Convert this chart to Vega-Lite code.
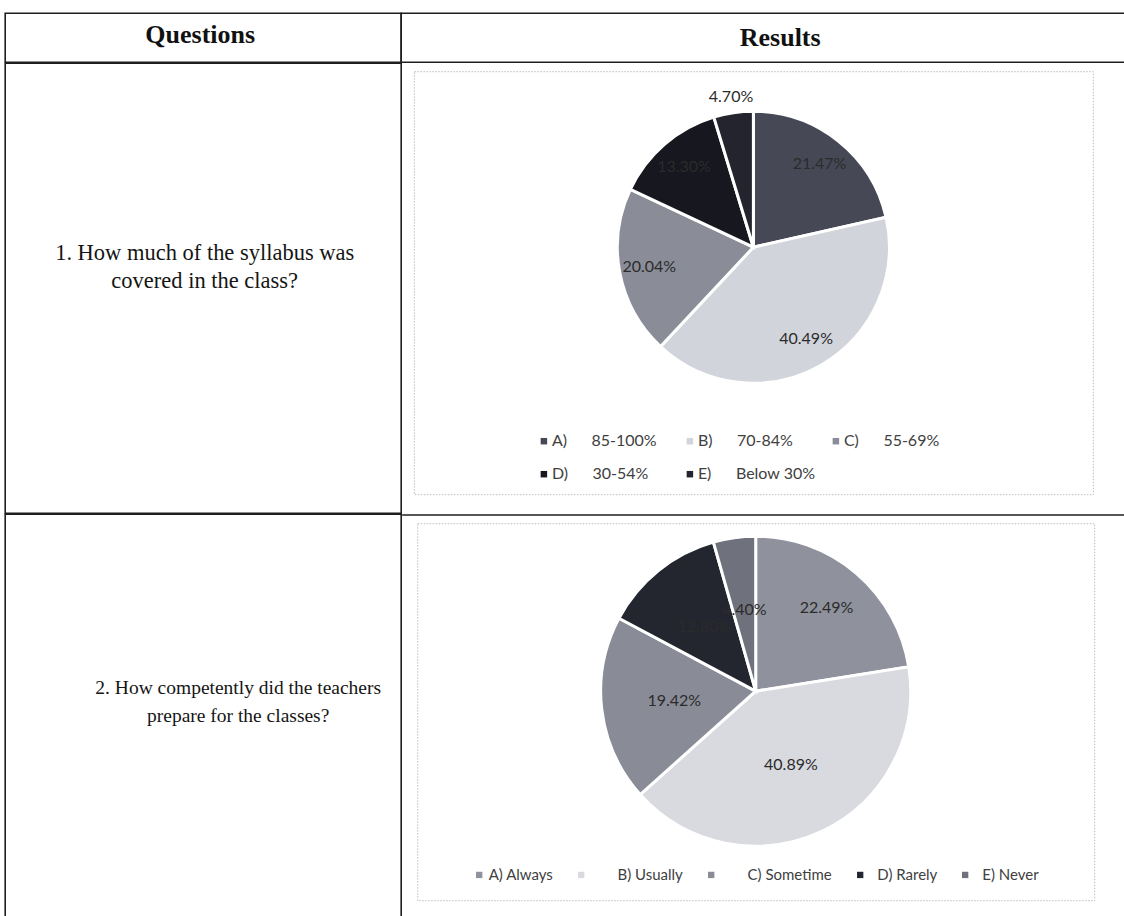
{
  "$schema": "https://vega.github.io/schema/vega-lite/v6.json",
  "background": "white",
  "padding": {"left": 4.2, "top": 12.2, "right": 0, "bottom": 0},
  "spacing": -1.6,
  "config": {"view": {"stroke": null}},
  "resolve": {"scale": {"color": "independent", "theta": "independent"}, "legend": {"color": "independent"}},
  "vconcat": [
    {
      "bounds": "flush",
      "spacing": 0,
      "hconcat": [
        {
          "width": 396, "height": 49,
          "view": {"stroke": "#1e1e1e", "strokeWidth": 1.6},
          "data": {"values": [{"t": "Questions"}]},
          "mark": {"type": "text", "font": "Liberation Serif", "fontWeight": "bold", "fontSize": 26, "color": "#111111", "dx": -3, "dy": -3},
          "encoding": {"text": {"field": "t", "type": "nominal"}}
        },
        {
          "width": 724, "height": 49,
          "view": {"stroke": "#1e1e1e", "strokeWidth": 1.6},
          "data": {"values": [{"t": "Results"}]},
          "mark": {"type": "text", "font": "Liberation Serif", "fontWeight": "bold", "fontSize": 26, "color": "#111111", "dx": 17, "dy": 0},
          "encoding": {"text": {"field": "t", "type": "nominal"}}
        }
      ]
    },
    {
      "spacing": 10.7,
      "resolve": {"scale": {"color": "independent", "theta": "independent"}, "legend": {"color": "independent"}},
      "hconcat": [
        {
          "width": 396, "height": 450,
          "view": {"stroke": "#1e1e1e", "strokeWidth": 1.6},
          "data": {"values": [{"t": "1. How much of the syllabus was\ncovered in the class?"}]},
          "mark": {"type": "text", "font": "Liberation Serif", "fontSize": 22.5, "lineHeight": 28, "lineBreak": "\n", "color": "#151515", "dx": 1.5, "dy": -35},
          "encoding": {"text": {"field": "t", "type": "nominal"}}
        },
        {
          "bounds": "flush",
          "spacing": 7,
          "resolve": {"scale": {"color": "independent", "theta": "independent"}, "legend": {"color": "independent"}},
          "vconcat": [
            {"width": 1, "height": 1, "data": {"values": [{}]}, "mark": {"type": "point", "size": 0, "filled": true, "strokeWidth": 0, "opacity": 0}},
            {
              "width": 679, "height": 423,
              "view": {"stroke": "#bdbdbd", "strokeWidth": 1, "strokeDash": [1.5, 1.5]},
              "data": {"values": [
                {"o": "A) 85-100%", "p": 21.47, "l": "21.47%"},
                {"o": "B) 70-84%", "p": 40.49, "l": "40.49%"},
                {"o": "C) 55-69%", "p": 20.04, "l": "20.04%"},
                {"o": "D) 30-54%", "p": 13.30, "l": "13.30%"},
                {"o": "E) Below 30%", "p": 4.70, "l": "4.70%"}
              ]},
              "encoding": {
                "theta": {"field": "p", "type": "quantitative", "stack": true},
                "order": {"field": "o", "type": "ordinal", "sort": "ascending"}
              },
              "layer": [
                {
                  "mark": {"type": "arc", "radius": 136, "yOffset": -35.5, "stroke": "white", "strokeWidth": 3},
                  "encoding": {
                    "color": {
                      "field": "o", "type": "nominal",
                      "scale": {"range": ["#464955", "#d2d4db", "#8a8d98", "#17171f", "#24242e"]},
                      "legend": {
                        "title": null, "orient": "none", "legendX": 122, "legendY": 362,
                        "direction": "horizontal",
                        "columns": 3, "gridAlign": "all", "columnPadding": 12, "rowPadding": 17,
                        "symbolType": "square", "symbolSize": 42, "symbolStrokeWidth": 0,
                        "labelFont": "Lato", "labelFontSize": 16, "labelColor": "#404040", "labelOffset": 0, "labelLimit": 300,
                        "labelExpr": "replace(datum.label, ') ', ')\u00a0\u00a0\u00a0\u00a0\u00a0\u00a0')"
                      }
                    }
                  }
                },
                {
                  "mark": {"type": "text", "radius": 106, "yOffset": -35.5, "font": "Lato", "fontSize": 16, "color": "#2b2b2b"},
                  "encoding": {
                    "detail": {"field": "o", "type": "nominal"},
                    "text": {"condition": {"test": "datum.p < 5", "value": ""}, "field": "l", "type": "nominal"}
                  }
                },
                {
                  "mark": {"type": "text", "radius": 152, "yOffset": -35.5, "font": "Lato", "fontSize": 16, "color": "#2b2b2b"},
                  "encoding": {
                    "detail": {"field": "o", "type": "nominal"},
                    "text": {"condition": {"test": "datum.p >= 5", "value": ""}, "field": "l", "type": "nominal"}
                  }
                }
              ]
            }
          ]
        }
      ]
    },
    {
      "spacing": -0.8,
      "resolve": {"scale": {"color": "independent", "theta": "independent"}, "legend": {"color": "independent"}},
      "hconcat": [
        {
          "width": 396, "height": 405,
          "view": {"stroke": "#1e1e1e", "strokeWidth": 1.6},
          "data": {"values": [{"t": "2.  How competently did the teachers\nprepare for the classes?"}]},
          "mark": {"type": "text", "font": "Liberation Serif", "fontSize": 19.5, "lineHeight": 28, "lineBreak": "\n", "color": "#151515", "dx": 35, "dy": -29},
          "encoding": {"text": {"field": "t", "type": "nominal"}}
        },
        {
          "spacing": 6,
          "resolve": {"scale": {"color": "independent", "theta": "independent"}, "legend": {"color": "independent"}},
          "vconcat": [
            {"width": 724, "height": 1.5, "view": {"fill": "#1e1e1e"}, "data": {"values": [{}]}, "mark": {"type": "point", "size": 0, "filled": true, "strokeWidth": 0, "opacity": 0}},
            {
              "bounds": "flush",
              "spacing": 14,
              "resolve": {"scale": {"color": "independent", "theta": "independent"}, "legend": {"color": "independent"}},
              "hconcat": [
                {"width": 1, "height": 1, "data": {"values": [{}]}, "mark": {"type": "point", "size": 0, "filled": true, "strokeWidth": 0, "opacity": 0}},
                {
                  "width": 677, "height": 377,
                  "view": {"stroke": "#bdbdbd", "strokeWidth": 1, "strokeDash": [1.5, 1.5]},
                  "data": {"values": [
                    {"o": "A) Always", "p": 22.49, "l": "22.49%"},
                    {"o": "B) Usually", "p": 40.89, "l": "40.89%"},
                    {"o": "C) Sometime", "p": 19.42, "l": "19.42%"},
                    {"o": "D) Rarely", "p": 12.80, "l": "12.80%"},
                    {"o": "E) Never", "p": 4.40, "l": "4.40%"}
                  ]},
                  "encoding": {
                    "theta": {"field": "p", "type": "quantitative", "stack": true},
                    "order": {"field": "o", "type": "ordinal", "sort": "ascending"}
                  },
                  "layer": [
                    {
                      "mark": {"type": "arc", "radius": 155, "yOffset": -20.5, "stroke": "white", "strokeWidth": 3},
                      "encoding": {
                        "color": {
                          "field": "o", "type": "nominal",
                          "scale": {"range": ["#8f929d", "#d8dae0", "#898c97", "#23252f", "#6f727d"]},
                          "legend": {
                            "title": null, "orient": "none", "legendX": 54.5, "legendY": 344,
                            "direction": "horizontal",
                            "columns": 5, "gridAlign": "each", "columnPadding": 20,
                            "symbolType": "square", "symbolSize": 40, "symbolStrokeWidth": 0,
                            "labelFont": "Lato", "labelFontSize": 15, "labelColor": "#404040", "labelOffset": 2, "labelLimit": 300,
                            "labelExpr": "(datum.value == 'B) Usually' || datum.value == 'C) Sometime' ? '\u200b\u00a0\u00a0\u00a0\u00a0\u00a0\u00a0\u00a0' : datum.value == 'A) Always' ? '' : '\u200b\u00a0\u00a0') + datum.label"
                          }
                        }
                      }
                    },
                    {
                      "mark": {"type": "text", "radius": 109, "yOffset": -20.5, "font": "Lato", "fontSize": 16, "color": "#2b2b2b"},
                      "encoding": {
                        "detail": {"field": "o", "type": "nominal"},
                        "text": {"condition": {"test": "datum.o != 'A) Always'", "value": ""}, "field": "l", "type": "nominal"}
                      }
                    },
                    {
                      "mark": {"type": "text", "radius": 82, "yOffset": -20.5, "font": "Lato", "fontSize": 16, "color": "#2b2b2b"},
                      "encoding": {
                        "detail": {"field": "o", "type": "nominal"},
                        "text": {"condition": {"test": "datum.o == 'A) Always'", "value": ""}, "field": "l", "type": "nominal"}
                      }
                    }
                  ]
                }
              ]
            }
          ]
        }
      ]
    }
  ]
}
